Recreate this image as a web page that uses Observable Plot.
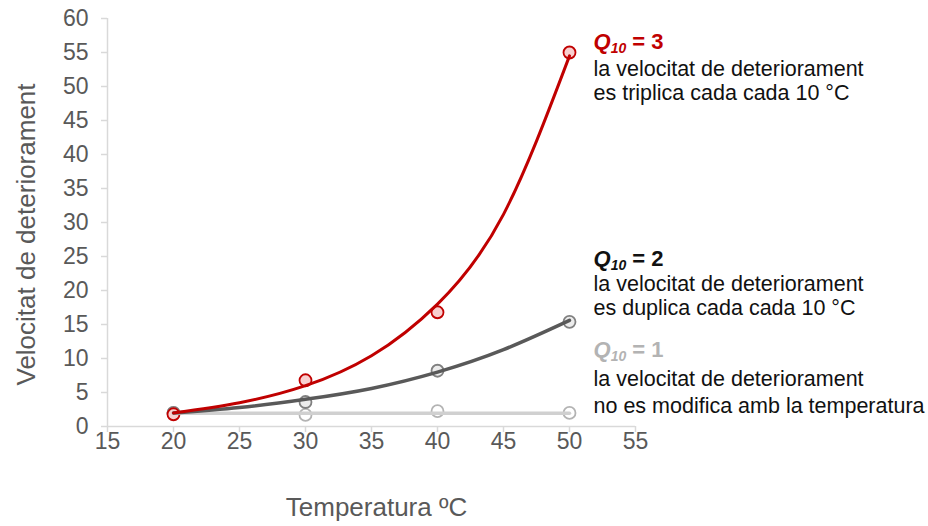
<!DOCTYPE html>
<html>
<head>
<meta charset="utf-8">
<script src="https://cdn.jsdelivr.net/npm/d3@7"></script>
<script src="https://cdn.jsdelivr.net/npm/@observablehq/plot@0.6"></script>
<style>
  html, body { margin: 0; padding: 0; background: #fff; }
  #chart svg { display: block; }
</style>
</head>
<body>
<div id="chart"></div>
<script>
// Measured points (temperature °C -> deterioration rate)
const temps = [20, 30, 40, 50];
const q3Points = [1.8, 6.8, 16.8, 55.0];
const q2Points = [2.0, 3.6, 8.2, 15.4];
const q1Points = [2.0, 1.7, 2.25, 2.0];

// Trend curves
const trendTemps = [20, 25, 30, 35, 40, 45, 50];
const q3Trend = [2.0, 3.5, 6.0, 10.4, 18.0, 31.2, 54.5];
const q2Trend = [2.0, 2.8, 4.0, 5.6, 8.0, 11.3, 15.6];
const q1Trend = [1.95, 1.95, 1.95, 1.95, 1.95, 1.95, 1.95];

const xTicks = [15, 20, 25, 30, 35, 40, 45, 50, 55];
const yTicks = [0, 5, 10, 15, 20, 25, 30, 35, 40, 45, 50, 55, 60];

const xTitle = "Temperatura ºC";
const yTitle = "Velocitat de deteriorament";

const q3Heading = "Q10 = 3";
const q3Body = "la velocitat de deteriorament\nes triplica cada cada 10 °C";
const q2Heading = "Q10 = 2";
const q2Body = "la velocitat de deteriorament\nes duplica cada cada 10 °C";
const q1Heading = "Q10 = 1";
const q1Body = "la velocitat de deteriorament\nno es modifica amb la temperatura";

const pts = (ys) => temps.map((t, i) => ({t, v: ys[i]}));
const trend = (ys) => trendTemps.map((t, i) => ({t, v: ys[i]}));

const red = "#c00000";
const dark = "#595959";
const light = "#d0d0d0";
const axisGrey = "#d9d9d9";
const labelGrey = "#595959";

const chart = Plot.plot({
  width: 928,
  height: 526,
  marginLeft: 107,
  marginRight: 293,
  marginTop: 18,
  marginBottom: 100,
  style: {fontFamily: "'Liberation Sans', Arial, sans-serif", background: "#fff", overflow: "visible"},
  x: {domain: [15, 55]},
  y: {domain: [0, 60]},
  marks: [
    // axis lines
    Plot.ruleX([15], {stroke: axisGrey, strokeWidth: 1.5}),
    Plot.ruleY([0], {stroke: axisGrey, strokeWidth: 1.5}),
    // tick marks
    Plot.axisY({ticks: yTicks, text: null, tickSize: 6, stroke: axisGrey, strokeWidth: 1.5, label: null}),
    Plot.axisX({ticks: xTicks, text: null, tickSize: 6, stroke: axisGrey, strokeWidth: 1.5, label: null}),
    // tick labels
    Plot.axisY({ticks: yTicks, tickSize: 0, tickPadding: 19, fill: labelGrey, fontSize: 23, label: null}),
    Plot.axisX({ticks: xTicks, tickSize: 0, tickPadding: 6, fill: labelGrey, fontSize: 23, label: null}),
    // axis titles
    Plot.text([yTitle], {frameAnchor: "left", text: d => d, rotate: -90, textAnchor: "middle", lineAnchor: "middle", dx: -81, dy: 12, fontSize: 26, fill: labelGrey}),
    Plot.text([xTitle], {frameAnchor: "bottom", text: d => d, lineAnchor: "middle", dy: 81, dx: 5, fontSize: 26, fill: labelGrey}),
    // markers
    Plot.dot(pts(q1Points), {x: "t", y: "v", r: 6, fill: "#ffffff", stroke: "#b3b3b3", strokeWidth: 1.8}),
    Plot.dot(pts(q2Points), {x: "t", y: "v", r: 6, fill: "#ececec", stroke: "#808080", strokeWidth: 1.8}),
    Plot.dot(pts(q3Points), {x: "t", y: "v", r: 6, fill: "#f8cfcf", stroke: red, strokeWidth: 1.8}),
    // trend curves
    Plot.line(trend(q1Trend), {x: "t", y: "v", stroke: light, strokeWidth: 3.5}),
    Plot.line(trend(q2Trend), {x: "t", y: "v", stroke: dark, strokeWidth: 3.5, curve: "natural"}),
    Plot.line(trend(q3Trend), {x: "t", y: "v", stroke: red, strokeWidth: 3, curve: "natural"}),
    // annotations
    Plot.text([q3Heading], {x: () => 50, y: () => 56.5, text: d => d, dx: 24, textAnchor: "start", fontSize: 22, fontWeight: "bold", fontStyle: "italic", fill: red}),
    Plot.text([q3Body], {x: () => 50, y: () => 50.9, text: d => d, dx: 24, textAnchor: "start", lineAnchor: "middle", lineHeight: 1.14, fontSize: 21.5, fill: "#111"}),
    Plot.text([q2Heading], {x: () => 50, y: () => 24.7, text: d => d, dx: 24, textAnchor: "start", fontSize: 22, fontWeight: "bold", fontStyle: "italic", fill: "#111"}),
    Plot.text([q2Body], {x: () => 50, y: () => 19.3, text: d => d, dx: 24, textAnchor: "start", lineAnchor: "middle", lineHeight: 1.14, fontSize: 21.5, fill: "#111"}),
    Plot.text([q1Heading], {x: () => 50, y: () => 11.2, text: d => d, dx: 24, textAnchor: "start", fontSize: 22, fontWeight: "bold", fontStyle: "italic", fill: "#b3b3b3"}),
    Plot.text([q1Body], {x: () => 50, y: () => 5.2, text: d => d, dx: 24, textAnchor: "start", lineAnchor: "middle", lineHeight: 1.22, fontSize: 21.5, fill: "#111"})
  ]
});

// Turn "Q10" into Q with subscript 10
d3.select(chart).selectAll("text").filter(function () {
  return this.textContent.startsWith("Q10");
}).each(function () {
  const rest = this.textContent.slice(3);
  const t = d3.select(this);
  t.text(null);
  t.append("tspan").text("Q");
  t.append("tspan").attr("font-size", "14px").attr("dy", "4").text("10");
  t.append("tspan").attr("dy", "-4").attr("font-style", "normal").text(rest);
});

document.getElementById("chart").appendChild(chart);
</script>
</body>
</html>
